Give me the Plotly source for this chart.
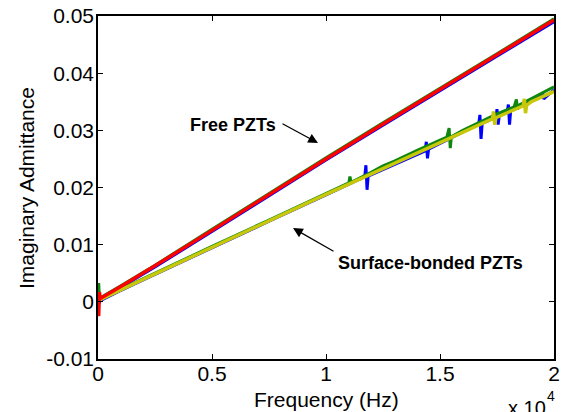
import plotly.graph_objects as go

# ---------------- data (frequency in Hz, imaginary admittance) ----------------
free_blue_f = [0, 50, 100, 1000, 2500, 5000, 7500, 10000, 12500, 15000, 17500, 20000]
free_blue_y = [0.0003, 0.0000, 0.0004, 0.0025, 0.0061, 0.0123, 0.0186, 0.0248, 0.0309, 0.0369, 0.0430, 0.0490]

free_green_f = [0, 30, 60, 100, 1000, 2500, 5000, 7500, 10000, 12500, 15000, 17500, 20000]
free_green_y = [0.0003, 0.0033, 0.0008, 0.0007, 0.0028, 0.0064, 0.0127, 0.0190, 0.0252, 0.0313, 0.0373, 0.0434, 0.0495]

free_red_f = [0, 30, 60, 100, 1000, 2500, 5000, 7500, 10000, 12500, 15000, 17500, 20000]
free_red_y = [0.0003, -0.0025, 0.0017, 0.0006, 0.0027, 0.0063, 0.0125, 0.0188, 0.0250, 0.0311, 0.0371, 0.0432, 0.0493]

bond_blue_f = [0, 50, 100, 1000, 2500, 5000, 7500, 10000, 11700, 11750, 11800, 11850,
               14350, 14400, 14450, 14500, 16700, 16750, 16800, 16850,
               17450, 17500, 17550, 17600, 17950, 18000, 18050, 18100,
               19450, 19500, 19550, 20000]
bond_blue_y = [0.0003, -0.0002, 0.0002, 0.0020, 0.0048, 0.0095, 0.0141, 0.0187, 0.0219, 0.0239, 0.0196, 0.0220,
               0.0264, 0.0280, 0.0251, 0.0267, 0.0311, 0.0327, 0.0285, 0.0312,
               0.0323, 0.0337, 0.0310, 0.0326, 0.0333, 0.0345, 0.0310, 0.0335,
               0.0360, 0.0366, 0.0355, 0.0371]

bond_green_f = [0, 50, 100, 1000, 2500, 5000, 7500, 10000, 10500, 11000, 11050, 11100, 12000, 12500,
                13000, 14000, 15300, 15400, 15450, 15500, 16000, 16500, 17000, 17500,
                18250, 18350, 18400, 18450, 19000, 19500, 20000]
bond_green_y = [0.0003, 0.0010, 0.0005, 0.0022, 0.0050, 0.0097, 0.0143, 0.0190, 0.0199, 0.0208, 0.0219, 0.0209, 0.0227, 0.0238,
                0.0246, 0.0265, 0.0288, 0.0304, 0.0269, 0.0289, 0.0300, 0.0309, 0.0319, 0.0329,
                0.0341, 0.0354, 0.0336, 0.0344, 0.0355, 0.0365, 0.0376]

bond_yellow_f = [0, 100, 1000, 2500, 5000, 7500, 10000, 11000, 12000, 13000, 14000, 15000, 16000,
                 17000, 17300, 17350, 17400, 17450, 18000, 18650, 18700, 18750, 18800, 19000, 19500, 20000]
bond_yellow_y = [0.0003, 0.0004, 0.0021, 0.0049, 0.0096, 0.0142, 0.0188, 0.0206, 0.0224, 0.0242, 0.0260, 0.0278, 0.0296,
                 0.0314, 0.0320, 0.0333, 0.0310, 0.0322, 0.0332, 0.0343, 0.0355, 0.0330, 0.0344, 0.0350, 0.0359, 0.0368]

x_tickvals = [0, 5000, 10000, 15000, 20000]
x_ticktext = ["0", "0.5", "1", "1.5", "2"]
y_tickvals = [-0.01, 0, 0.01, 0.02, 0.03, 0.04, 0.05]
y_ticktext = ["-0.01", "0", "0.01", "0.02", "0.03", "0.04", "0.05"]

BLUE = "#0000ff"
GREEN = "#0f870f"
RED = "#ff0000"
YELLOW = "#c8c80a"

fig = go.Figure()
series = [
    (free_blue_f, free_blue_y, BLUE, 3),
    (free_green_f, free_green_y, GREEN, 3),
    (bond_blue_f, bond_blue_y, BLUE, 3),
    (bond_green_f, bond_green_y, GREEN, 3),
    (bond_yellow_f, bond_yellow_y, YELLOW, 3.5),
    (free_red_f, free_red_y, RED, 3.5),
]
for fx, fy, col, w in series:
    fig.add_trace(go.Scatter(x=fx, y=fy, mode="lines",
                             line=dict(color=col, width=w), showlegend=False,
                             hoverinfo="skip"))

font = "Liberation Sans, Arial, sans-serif"

L, R, T, B = 98, 9, 16, 53
PW, PH = 563 - L - R, 412 - T - B


def px(xp):
    return (xp - L) / PW


def py(yp):
    return (412 - B - yp) / PH


fig.update_layout(
    width=563, height=412,
    margin=dict(l=L, r=R, t=T, b=B),
    paper_bgcolor="white", plot_bgcolor="white",
    font=dict(family=font, size=21, color="black"),
    xaxis=dict(range=[0, 20000], tickvals=x_tickvals, ticktext=x_ticktext,
               showgrid=False, zeroline=False, showline=True, linecolor="black",
               linewidth=1.5, mirror="ticks", ticks="inside", ticklen=5,
               tickcolor="black", tickwidth=1, automargin=False,
               ticklabelstandoff=-5),
    yaxis=dict(range=[-0.01, 0.05], tickvals=y_tickvals, ticktext=y_ticktext,
               showgrid=False, zeroline=False, showline=True, linecolor="black",
               linewidth=1.5, mirror="ticks", ticks="inside", ticklen=5,
               tickcolor="black", tickwidth=1, automargin=False,
               ticklabelstandoff=-2),
)

# axis titles
fig.add_annotation(x=px(326), y=py(399), xref="paper", yref="paper",
                   xanchor="center", yanchor="middle",
                   text="Frequency (Hz)", showarrow=False, font=dict(size=21, family=font))
fig.add_annotation(x=px(26), y=py(188), xref="paper", yref="paper", textangle=-90,
                   xanchor="center", yanchor="middle",
                   text="Imaginary Admittance", showarrow=False, font=dict(size=21, family=font))

# arrows
fig.add_annotation(x=9649, y=0.0278, ax=-37, ay=-20, xref="x", yref="y",
                   text="", showarrow=True, arrowhead=2, arrowsize=1.5,
                   arrowwidth=1.3, arrowcolor="black")
fig.add_annotation(x=8553, y=0.0129, ax=42, ay=24, xref="x", yref="y",
                   text="", showarrow=True, arrowhead=2, arrowsize=1.5,
                   arrowwidth=1.3, arrowcolor="black")
# labels
fig.add_annotation(x=5921, y=0.0310, xref="x", yref="y", text="<b>Free PZTs</b>",
                   xanchor="center", yanchor="middle",
                   showarrow=False, font=dict(size=18, family=font))
fig.add_annotation(x=14605, y=0.00675, xref="x", yref="y", text="<b>Surface-bonded PZTs</b>",
                   xanchor="center", yanchor="middle",
                   showarrow=False, font=dict(size=18, family=font))
# exponent label
fig.add_annotation(x=px(527), y=py(408), xref="paper", yref="paper",
                   xanchor="center", yanchor="middle",
                   text="x 10", showarrow=False, font=dict(size=20, family=font))
fig.add_annotation(x=px(551), y=py(396), xref="paper", yref="paper",
                   xanchor="center", yanchor="middle",
                   text="4", showarrow=False, font=dict(size=14, family=font))

fig.write_html("out.html", config={"displayModeBar": False},
               post_script="document.body.style.margin='0';document.body.style.overflow='hidden';")
